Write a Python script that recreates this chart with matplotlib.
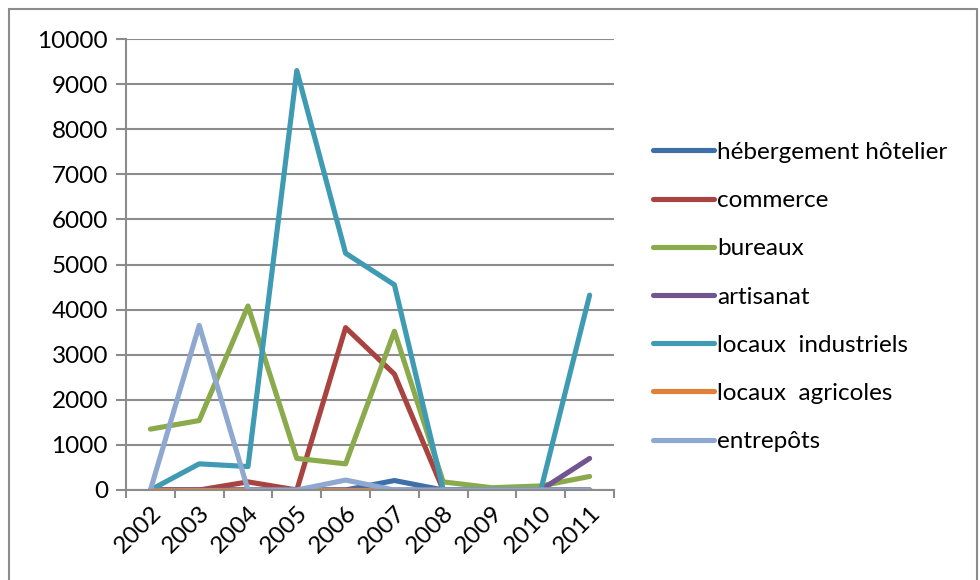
import numpy as np
import matplotlib.pyplot as plt
from matplotlib.patches import Rectangle

years = ['2002', '2003', '2004', '2005', '2006', '2007', '2008', '2009', '2010', '2011']

hebergement = [0, 0, 0, 0, 0, 210, 0, 0, 0, 0]
commerce = [0, 0, 180, 0, 3600, 2570, 0, 0, 0, 0]
bureaux = [1350, 1540, 4080, 700, 580, 3520, 180, 50, 90, 300]
artisanat = [0, 0, 0, 0, 0, 0, 0, 0, 0, 700]
industriels = [0, 580, 520, 9300, 5250, 4550, 0, 0, 0, 4320]
agricoles = [0, 0, 0, 0, 0, 0, 0, 0, 0, 0]
entrepots = [0, 3650, 0, 0, 220, 0, 0, 0, 0, 0]

series = [
    ('hébergement hôtelier', hebergement, '#3F6FA8'),
    ('commerce', commerce, '#A9433F'),
    ('bureaux', bureaux, '#8AAA4C'),
    ('artisanat', artisanat, '#70558F'),
    ('locaux  industriels', industriels, '#3F9AB3'),
    ('locaux  agricoles', agricoles, '#E07F35'),
    ('entrepôts', entrepots, '#8FA8D0'),
]

plt.rcParams['font.family'] = ['Lato', 'DejaVu Sans']

fig = plt.figure(figsize=(9.8, 5.8), dpi=100)
ax = fig.add_axes([126 / 980, 90 / 580, 488 / 980, 451 / 580])

# outer chart frame
fig.patches.append(Rectangle((9 / 980, -0.05), 968 / 980, 1.05 - 9 / 580,
                             transform=fig.transFigure, fill=False,
                             edgecolor='#8C8C8C', linewidth=1.5))

x = np.arange(len(years))
for name, vals, col in series:
    ax.plot(x, vals, color=col, linewidth=3.7, label=name, solid_capstyle='round')

ax.set_xlim(-0.5, len(years) - 0.5)
ax.set_ylim(0, 10000)
ax.set_yticks(np.arange(0, 10001, 1000))
ax.yaxis.grid(True, color='#8C8C8C', linewidth=1.5)
ax.set_axisbelow(True)

ax.set_xticks(x)
ax.set_xticklabels(years, rotation=45, ha='right', rotation_mode='anchor')
ax.set_xticks(np.arange(-0.5, len(years), 1), minor=True)
ax.tick_params(axis='x', which='major', length=0, labelsize=17.5, pad=9)
ax.tick_params(axis='x', which='minor', length=6, width=1.5, color='#8C8C8C')
ax.tick_params(axis='y', length=7, width=1.5, color='#8C8C8C', labelsize=17.5, pad=6)

for side in ['top', 'right']:
    ax.spines[side].set_visible(False)
for side in ['left', 'bottom']:
    ax.spines[side].set_color('#8C8C8C')
    ax.spines[side].set_linewidth(1.5)

ax.legend(loc='center left', bbox_to_anchor=(653 / 980, (580 - 297) / 580),
          bbox_transform=fig.transFigure, frameon=False, fontsize=17.5,
          handlelength=2.5, handletextpad=0.15, labelspacing=1.12,
          borderaxespad=0, borderpad=0)

plt.savefig('out.png', dpi=100)
